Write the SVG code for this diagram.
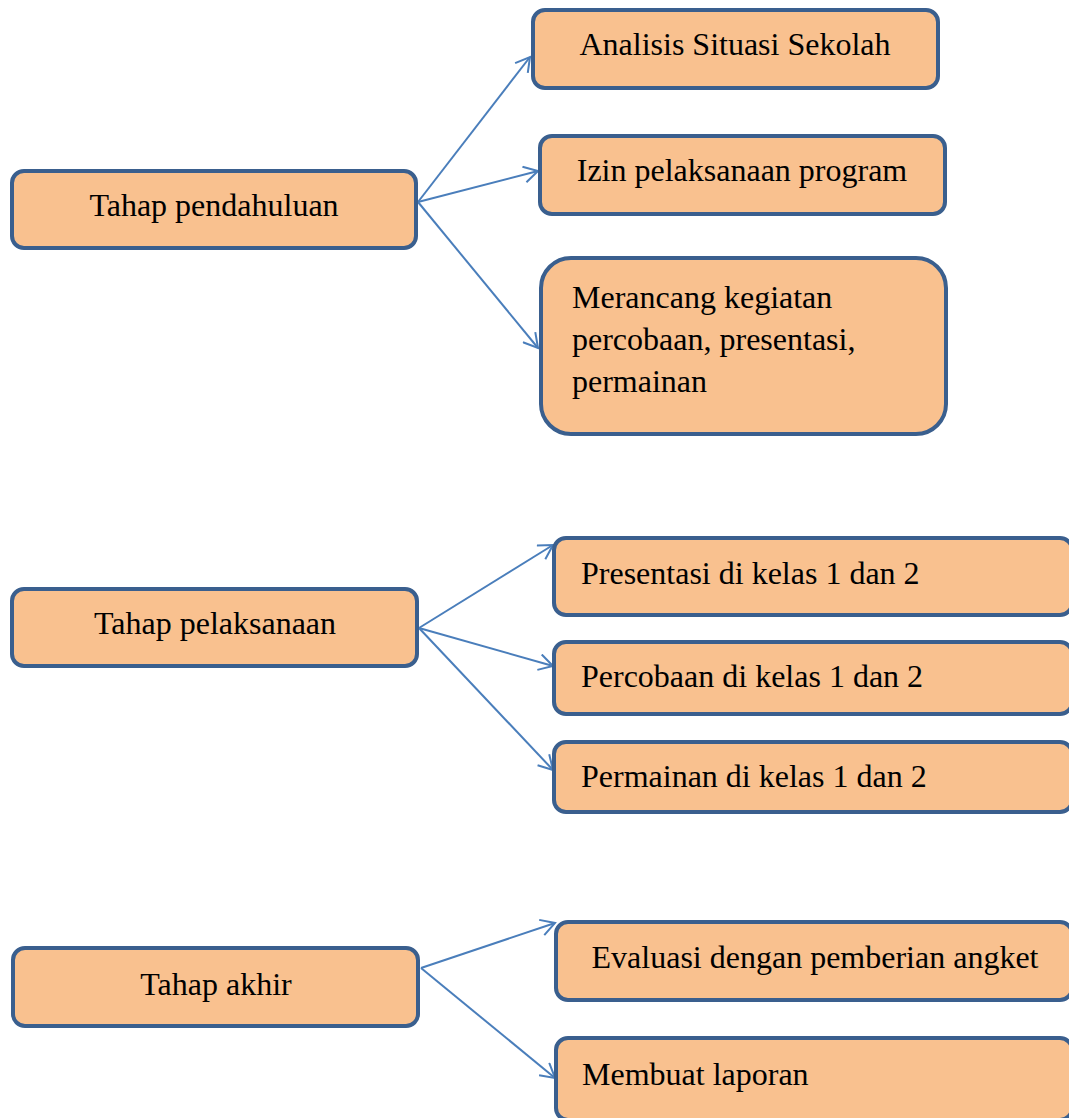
<svg xmlns="http://www.w3.org/2000/svg" width="1069" height="1118" viewBox="0 0 1069 1118">
<style>
.box{fill:#F9C18F;stroke:#3A5F8E;stroke-width:4}
.t{font-family:"Liberation Serif","Times New Roman",serif;font-size:32px;fill:#000}
.c{text-anchor:middle}
.ln{stroke:#4A7EBB;stroke-width:2;fill:none}
</style>
<defs>
<marker id="ah" markerWidth="18" markerHeight="18" refX="15" refY="9" orient="auto" markerUnits="userSpaceOnUse">
<path d="M1,1 L15,9 L1,17" fill="none" stroke="#4A7EBB" stroke-width="2"/>
</marker>
</defs>
<g id="connectors">
<line class="ln" x1="418" y1="202" x2="530" y2="57" marker-end="url(#ah)"/>
<line class="ln" x1="418" y1="202" x2="538" y2="171" marker-end="url(#ah)"/>
<line class="ln" x1="418" y1="202" x2="538" y2="348" marker-end="url(#ah)"/>
<line class="ln" x1="419" y1="628" x2="553" y2="545" marker-end="url(#ah)"/>
<line class="ln" x1="419" y1="628" x2="553" y2="666" marker-end="url(#ah)"/>
<line class="ln" x1="419" y1="628" x2="553" y2="770" marker-end="url(#ah)"/>
<line class="ln" x1="421" y1="968" x2="555" y2="923" marker-end="url(#ah)"/>
<line class="ln" x1="421" y1="968" x2="555" y2="1078" marker-end="url(#ah)"/>
</g>
<g id="n1"><rect class="box" x="12" y="171" width="404" height="77" rx="12"/><text class="t c" x="214" y="216">Tahap pendahuluan</text></g>
<g id="n2"><rect class="box" x="533" y="10" width="405" height="78" rx="12"/><text class="t c" x="735" y="55">Analisis Situasi Sekolah</text></g>
<g id="n3"><rect class="box" x="540" y="136" width="405" height="78" rx="12"/><text class="t c" x="742" y="181">Izin pelaksanaan program</text></g>
<g id="n4"><rect class="box" x="541" y="258" width="405" height="176" rx="30"/>
<text class="t" x="572" y="308">Merancang kegiatan</text>
<text class="t" x="572" y="350">percobaan, presentasi,</text>
<text class="t" x="572" y="392">permainan</text></g>
<g id="n5"><rect class="box" x="12" y="589" width="405" height="77" rx="12"/><text class="t c" x="215" y="634">Tahap pelaksanaan</text></g>
<g id="n6"><rect class="box" x="554" y="538" width="518" height="77" rx="12"/><text class="t" x="581" y="584">Presentasi di kelas 1 dan 2</text></g>
<g id="n7"><rect class="box" x="554" y="642" width="518" height="72" rx="12"/><text class="t" x="581" y="687">Percobaan di kelas 1 dan 2</text></g>
<g id="n8"><rect class="box" x="554" y="742" width="518" height="70" rx="12"/><text class="t" x="581" y="787">Permainan di kelas 1 dan 2</text></g>
<g id="n9"><rect class="box" x="13" y="948" width="405" height="78" rx="12"/><text class="t c" x="216" y="995">Tahap akhir</text></g>
<g id="n10"><rect class="box" x="556" y="922" width="516" height="78" rx="12"/><text class="t c" x="815" y="968">Evaluasi dengan pemberian angket</text></g>
<g id="n11"><rect class="box" x="556" y="1038" width="516" height="82" rx="12"/><text class="t" x="582" y="1085">Membuat laporan</text></g>
</svg>
